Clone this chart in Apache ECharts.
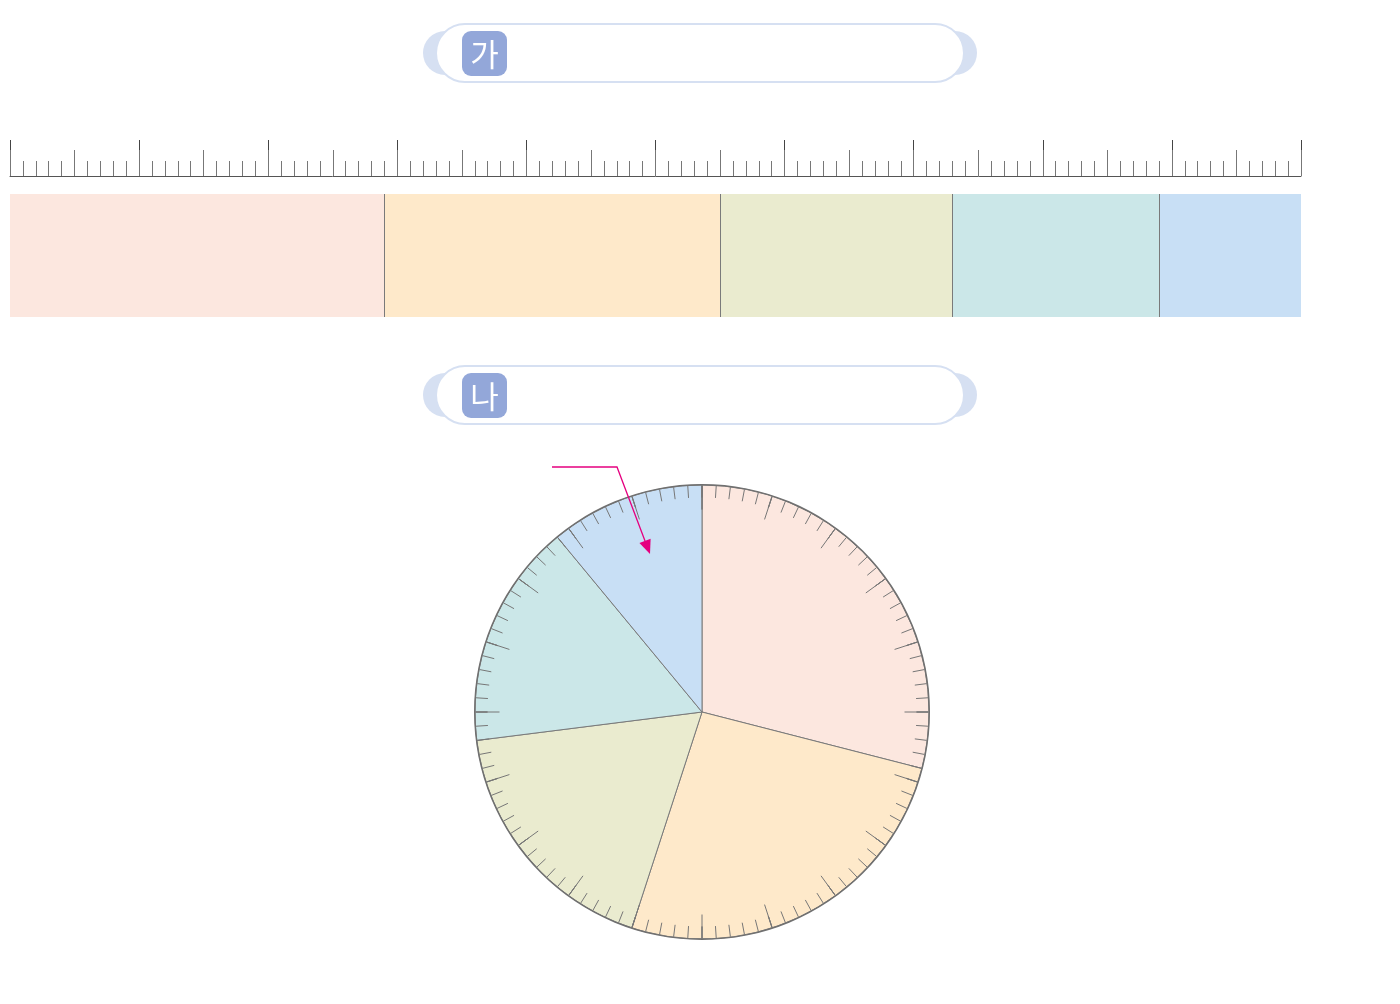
<!DOCTYPE html>
<html>
<head>
<meta charset="utf-8">
<script src="https://cdn.jsdelivr.net/npm/echarts@6/dist/echarts.min.js"></script>
<style>
html,body{margin:0;padding:0;background:#fff;}
#chart{width:1400px;height:1004px;}
</style>
</head>
<body>
<div id="chart"></div>
<script>
// ---- data ----
const categories = ['1', '2', '3', '4', '5'];
const values = [29, 26, 18, 16, 11];
const scaleMax = 100;
const titleLabels = ['가', '나'];

// ---- styles ----
const colors = ['#fce7df', '#fee9ca', '#eaebcf', '#cbe7e8', '#c8dff5'];
const sepColor = '#7a7a7a';
const boxStroke = '#d6e0f2';
const badgeColor = '#93a7d9';
const arrowColor = '#e5007f';

const chart = echarts.init(document.getElementById('chart'), null, {renderer: 'canvas'});

// cumulative boundaries
const cumul = [];
values.reduce((a, v) => { cumul.push(a + v); return a + v; }, 0);

function titleBox(y, text) {
  return {
    type: 'group',
    children: [
      {type: 'circle', shape: {cx: 445, cy: y + 29, r: 22}, style: {fill: boxStroke}},
      {type: 'circle', shape: {cx: 955, cy: y + 29, r: 22}, style: {fill: boxStroke}},
      {type: 'rect', shape: {x: 436, y: y, width: 528, height: 58, r: 29},
       style: {fill: '#fff', stroke: boxStroke, lineWidth: 2}},
      {type: 'rect', shape: {x: 462, y: y + 7, width: 45, height: 45, r: 9},
       style: {fill: badgeColor}},
      {type: 'text', x: 484.5, y: y + 30,
       style: {text: text, fill: '#fff', font: '31px "Noto Sans CJK KR"', align: 'center', verticalAlign: 'middle'}}
    ]
  };
}

// arrow annotation
const p0 = [552, 467], p1 = [617, 467], tip = [650, 554];
const dx = tip[0] - p1[0], dy = tip[1] - p1[1];
const L = Math.sqrt(dx * dx + dy * dy);
const ux = dx / L, uy = dy / L;
const hl = 14, hw = 6;
const base = [tip[0] - ux * hl, tip[1] - uy * hl];
const arrowHead = [
  tip,
  [base[0] - uy * hw, base[1] + ux * hw],
  [base[0] + uy * hw, base[1] - ux * hw]
];

const barSeries = values.map((v, i) => ({
  type: 'bar',
  name: categories[i],
  xAxisIndex: 2,
  yAxisIndex: 1,
  stack: 'total',
  barWidth: '100%',
  data: [v],
  itemStyle: {color: colors[i]},
  silent: true,
  label: {show: false}
}));
barSeries[barSeries.length - 1].markLine = {
  silent: true,
  symbol: 'none',
  label: {show: false},
  lineStyle: {color: sepColor, width: 1, type: 'solid'},
  data: cumul.slice(0, -1).map(c => ({xAxis: c}))
};

const option = {
  animation: false,
  backgroundColor: '#fff',
  grid: [
    {left: 10, width: 1291, top: 100, height: 76},
    {left: 10, width: 1291, top: 194, height: 123}
  ],
  xAxis: [
    {
      gridIndex: 0, type: 'value', min: 0, max: scaleMax, interval: 10, position: 'bottom',
      axisLine: {show: true, lineStyle: {color: '#555', width: 1}},
      axisTick: {show: true, inside: true, length: 36, lineStyle: {color: '#444', width: 1}},
      minorTick: {show: true, splitNumber: 10, length: 15, lineStyle: {color: '#777', width: 1}},
      axisLabel: {show: false}, splitLine: {show: false}
    },
    {
      gridIndex: 0, type: 'value', min: 0, max: scaleMax, interval: 5, position: 'bottom',
      axisLine: {show: false},
      axisTick: {show: true, inside: true, length: 26, lineStyle: {color: '#777', width: 1}},
      axisLabel: {show: false}, splitLine: {show: false}
    },
    {
      gridIndex: 1, type: 'value', min: 0, max: scaleMax, show: false
    }
  ],
  yAxis: [
    {gridIndex: 0, type: 'value', show: false, min: 0, max: 1},
    {gridIndex: 1, type: 'category', data: ['strip'], show: false}
  ],
  series: [
    {type: 'line', xAxisIndex: 0, yAxisIndex: 0, data: [], silent: true},
    ...barSeries,
    {
      type: 'pie',
      center: [702, 712],
      radius: [0, 227],
      startAngle: 90,
      clockwise: true,
      silent: true,
      label: {show: false},
      labelLine: {show: false},
      itemStyle: {borderColor: sepColor, borderWidth: 1},
      data: values.map((v, i) => ({name: categories[i], value: v, itemStyle: {color: colors[i]}})),
      z: 2
    },
    {
      type: 'gauge',
      center: [702, 712],
      radius: 228,
      startAngle: 90,
      endAngle: -270,
      min: 0,
      max: scaleMax,
      splitNumber: 20,
      silent: true,
      z: 3,
      axisLine: {show: true, lineStyle: {width: 1.5, color: [[1, '#707070']]}},
      splitLine: {show: true, distance: 0, length: 24, lineStyle: {color: '#777', width: 1}},
      axisTick: {show: true, distance: 0, splitNumber: 5, length: 12, lineStyle: {color: '#777', width: 1}},
      axisLabel: {show: false},
      pointer: {show: false},
      anchor: {show: false},
      progress: {show: false},
      title: {show: false},
      detail: {show: false},
      data: []
    }
  ],
  graphic: [
    titleBox(24, titleLabels[0]),
    titleBox(366, titleLabels[1]),
    {type: 'polyline', z: 100, shape: {points: [p0, p1, base]},
     style: {stroke: arrowColor, lineWidth: 1.3, fill: null}},
    {type: 'polygon', z: 100, shape: {points: arrowHead}, style: {fill: arrowColor}}
  ]
};

chart.setOption(option);
</script>
</body>
</html>
